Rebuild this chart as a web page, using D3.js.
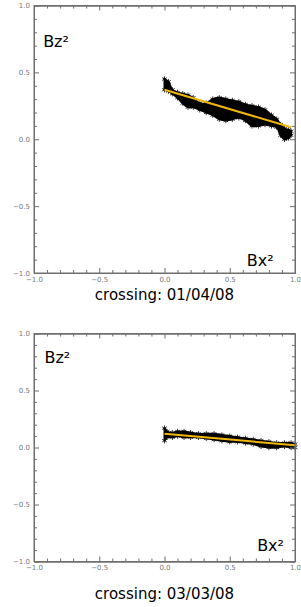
<!DOCTYPE html>
<html>
<head>
<script src="https://d3js.org/d3.v7.min.js"></script>
<style>
  body { margin: 0; background: white; }
  svg { display: block; }
</style>
</head>
<body>
<div id="chart"></div>
<script>
// tick values (both axes)
const majorTicks = [-1.0, -0.5, 0.0, 0.5, 1.0];
const minorTicks = [-0.9, -0.8, -0.7, -0.6, -0.4, -0.3, -0.2, -0.1, 0.1, 0.2, 0.3, 0.4, 0.6, 0.7, 0.8, 0.9];

// crossing 01/04/08 : cloud envelope
const cloud1X  = [0.00, 0.03, 0.06, 0.10, 0.14, 0.18, 0.22, 0.27, 0.32, 0.37, 0.42, 0.47, 0.52, 0.57, 0.62, 0.67, 0.72, 0.77, 0.82, 0.86, 0.89, 0.92, 0.95, 0.97];
const cloud1Lo = [0.37, 0.36, 0.34, 0.31, 0.27, 0.24, 0.24, 0.22, 0.20, 0.18, 0.15, 0.14, 0.15, 0.16, 0.14, 0.10, 0.10, 0.11, 0.10, 0.09, 0.03, 0.00, 0.01, 0.03];
const cloud1Hi = [0.45, 0.43, 0.37, 0.35, 0.34, 0.33, 0.31, 0.27, 0.27, 0.30, 0.31, 0.30, 0.29, 0.28, 0.26, 0.25, 0.24, 0.22, 0.18, 0.15, 0.11, 0.08, 0.07, 0.06];
const fit1 = [[0.00, 0.37], [0.97, 0.09]];

// crossing 03/03/08
const cloud2X  = [0.00, 0.02, 0.06, 0.10, 0.15, 0.20, 0.26, 0.32, 0.38, 0.44, 0.50, 0.56, 0.62, 0.68, 0.74, 0.80, 0.86, 0.92, 0.97, 1.00];
const cloud2Lo = [0.06, 0.09, 0.09, 0.10, 0.09, 0.09, 0.09, 0.08, 0.07, 0.06, 0.05, 0.05, 0.04, 0.03, 0.01, 0.00, 0.00, 0.01, 0.00, 0.00];
const cloud2Hi = [0.17, 0.14, 0.13, 0.14, 0.14, 0.13, 0.12, 0.12, 0.12, 0.11, 0.10, 0.09, 0.08, 0.07, 0.06, 0.05, 0.04, 0.04, 0.04, 0.03];
const fit2 = [[0.00, 0.12], [1.00, 0.02]];

const titles = ["crossing: 01/04/08", "crossing: 03/03/08"];

const W = 301, H = 607;
const svg = d3.select("#chart").append("svg")
    .attr("width", W)
    .attr("height", H);

const panels = [
    { top: 5.5, bottom: 273, X: cloud1X, lo: cloud1Lo, hi: cloud1Hi, fit: fit1,
      title: titles[0], titleY: 300, bz: [-0.93, 0.69], bx: [0.63, -0.95] },
    { top: 333.5, bottom: 561.5, X: cloud2X, lo: cloud2Lo, hi: cloud2Hi, fit: fit2,
      title: titles[1], titleY: 599, bz: [-0.92, 0.74], bx: [0.71, -0.91] }
];

panels.forEach(p => drawPanel(p));

function drawPanel(p) {
    const left = 34, right = 295;
    const x = d3.scaleLinear().domain([-1, 1]).range([left, right]);
    const y = d3.scaleLinear().domain([-1, 1]).range([p.bottom, p.top]);
    const g = svg.append("g");
    const axisCol = "#6e6e6e";

    // data cloud
    const pts = p.X.map((v, i) => ({ x: v, lo: p.lo[i], hi: p.hi[i] }));
    const area = d3.area()
        .x(d => x(d.x))
        .y0(d => y(d.lo))
        .y1(d => y(d.hi))
        .curve(d3.curveCatmullRom);
    g.append("path")
        .datum(pts)
        .attr("d", area)
        .attr("fill", "#000")
        .attr("stroke", "#000")
        .attr("stroke-width", 2);

    const star = d3.symbol().type(d3.symbolAsterisk).size(20);
    const edge = pts.flatMap(d => [[d.x, d.lo], [d.x, d.hi]]);
    g.selectAll(".star")
        .data(edge)
        .enter()
        .append("path")
        .attr("class", "star")
        .attr("d", star)
        .attr("transform", d => "translate(" + x(d[0]) + "," + y(d[1]) + ")")
        .attr("fill", "none")
        .attr("stroke", "#000")
        .attr("stroke-width", 0.8);

    // fit line
    g.append("line")
        .attr("x1", x(p.fit[0][0])).attr("y1", y(p.fit[0][1]))
        .attr("x2", x(p.fit[1][0])).attr("y2", y(p.fit[1][1]))
        .attr("stroke", "#f2b705")
        .attr("stroke-width", 2);

    // axes: ticks point inward on all four sides
    const mkAxis = (axisFn, scale, size, vals, labels) => axisFn(scale)
        .tickValues(vals)
        .tickSizeInner(size)
        .tickSizeOuter(0)
        .tickPadding(labels ? 4 : 0)
        .tickFormat(labels ? d3.format(".1f") : "");

    const axes = [
        [d3.axisBottom, x, "translate(0," + p.bottom + ")", true],
        [d3.axisTop, x, "translate(0," + p.top + ")", false],
        [d3.axisLeft, y, "translate(" + left + ",0)", true],
        [d3.axisRight, y, "translate(" + right + ",0)", false]
    ];
    axes.forEach(a => {
        g.append("g").attr("transform", a[2]).call(mkAxis(a[0], a[1], -5, majorTicks, a[3]));
        g.append("g").attr("transform", a[2]).call(mkAxis(a[0], a[1], -3, minorTicks, false));
    });
    g.selectAll(".domain, .tick line").attr("stroke", axisCol);
    g.selectAll(".tick text")
        .attr("fill", "#777")
        .style("font-family", "'DejaVu Sans', sans-serif")
        .style("font-size", "7px");

    g.append("rect")
        .attr("x", left).attr("y", p.top)
        .attr("width", right - left).attr("height", p.bottom - p.top)
        .attr("fill", "none")
        .attr("stroke", axisCol);

    // in-plot labels
    g.append("text")
        .attr("x", x(p.bz[0])).attr("y", y(p.bz[1]))
        .style("font-family", "'DejaVu Sans', sans-serif")
        .style("font-size", "16px")
        .text("Bz²");
    g.append("text")
        .attr("x", x(p.bx[0])).attr("y", y(p.bx[1]))
        .style("font-family", "'DejaVu Sans', sans-serif")
        .style("font-size", "16px")
        .text("Bx²");

    svg.append("text")
        .attr("x", (left + right) / 2)
        .attr("y", p.titleY)
        .attr("text-anchor", "middle")
        .style("font-family", "'DejaVu Sans', sans-serif")
        .style("font-size", "15px")
        .text(p.title);
}
</script>
</body>
</html>
